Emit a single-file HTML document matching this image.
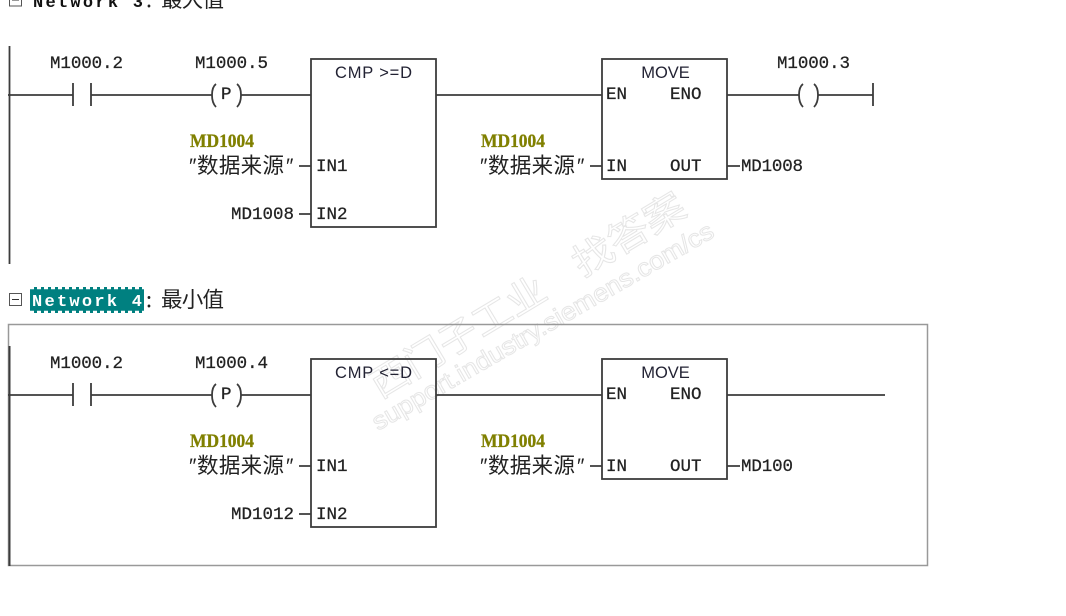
<!DOCTYPE html>
<html>
<head>
<meta charset="utf-8">
<style>
html,body{margin:0;padding:0;background:#fff;width:1066px;height:616px;overflow:hidden}
svg{display:block}
.l{stroke:#3c3c3c;stroke-width:1.8;fill:none}
.b{stroke:#3c3c3c;stroke-width:1.8;fill:none}
.m{font-family:"Liberation Mono",monospace;font-size:17.5px;fill:#222;stroke:#222;stroke-width:.25}
.s{font-family:"Liberation Sans",sans-serif;font-size:16.5px;fill:#223}
.y{font-family:"Liberation Serif",serif;font-size:19px;font-weight:bold;fill:#808000;stroke:#808000;stroke-width:.3}
.c{font-family:"Noto Sans CJK SC",sans-serif;font-size:21.5px;fill:#222}
.q{font-family:"Liberation Sans",sans-serif;font-size:21px;font-style:italic;fill:#222}
.h{font-family:"Liberation Mono",monospace;font-size:17px;font-weight:bold}
.w{font-family:"Liberation Sans","Noto Sans CJK SC",sans-serif;fill:none;stroke:#e6e6e6;stroke-width:1}
</style>
</head>
<body>
<svg width="1066" height="616" viewBox="0 0 1066 616" xmlns="http://www.w3.org/2000/svg">
<defs>
<g id="net">
  <path class="l" d="M73 95H8M73 83V106M91 83V106M91 95H212M241 95H311M436 95H602"/>
  <path class="l" d="M216 84Q212 87 212 95Q212 103 216 107M237 84Q241 87 241 95Q241 103 237 107"/>
  <text class="m" x="50" y="68" textLength="73">M1000.2</text>
  <text class="m" x="221" y="99">P</text>
  <rect class="b" x="311" y="59" width="125" height="168"/>
  <text class="y" x="190" y="147" textLength="64" lengthAdjust="spacingAndGlyphs">MD1004</text>
  <text class="q" x="188" y="173">″</text>
  <text class="c" x="197" y="173" textLength="87">数据来源</text>
  <text class="q" x="285" y="173">″</text>
  <path class="l" d="M299 166H311M299 214H311"/>
  <text class="m" x="316" y="171">IN1</text>
  <text class="m" x="316" y="219">IN2</text>
  <rect class="b" x="602" y="59" width="125" height="120"/>
  <text class="s" x="665.5" y="78" text-anchor="middle">MOVE</text>
  <text class="m" x="606" y="99">EN</text>
  <text class="m" x="670" y="99">ENO</text>
  <text class="m" x="606" y="171">IN</text>
  <text class="m" x="670" y="171">OUT</text>
  <text class="y" x="481" y="147" textLength="64" lengthAdjust="spacingAndGlyphs">MD1004</text>
  <text class="q" x="479" y="173">″</text>
  <text class="c" x="488" y="173" textLength="87">数据来源</text>
  <text class="q" x="576" y="173">″</text>
  <path class="l" d="M590 166H602M727 166H740"/>
</g>
</defs>

<!-- Watermark (behind the diagram) -->
<g transform="translate(380,399) rotate(-31)">
  <text class="w" x="0" y="0" font-size="37" textLength="198" lengthAdjust="spacingAndGlyphs">西门子工业</text>
  <text class="w" x="236" y="0" font-size="37" textLength="124" lengthAdjust="spacingAndGlyphs">找答案</text>
</g>
<g transform="translate(378,431) rotate(-30)">
  <text class="w" x="0" y="0" font-size="25" textLength="390" lengthAdjust="spacingAndGlyphs">support.industry.siemens.com/cs</text>
</g>

<!-- Network 3 header -->
<rect x="9.5" y="-6" width="12" height="12" fill="none" stroke="#555"/>
<path d="M12 0H19" stroke="#333"/>
<text class="h" x="33" y="7" fill="#111" textLength="110">Network 3</text>
<text class="c" x="146" y="7">:</text>
<text class="c" x="161" y="7" textLength="63">最大值</text>

<!-- Network 3 -->
<path d="M9.5 46V264" stroke="#3c3c3c" stroke-width="1.8"/>
<use href="#net"/>
<text class="m" x="195" y="68" textLength="73">M1000.5</text>
<text class="s" x="373.5" y="78" text-anchor="middle" textLength="77">CMP &gt;=D</text>
<text class="m" x="231" y="219" textLength="63">MD1008</text>
<text class="m" x="741" y="171" textLength="62">MD1008</text>
<text class="m" x="777" y="68" textLength="73">M1000.3</text>
<path class="l" d="M727 95H799M818 95H873M873 83V106"/>
<path class="l" d="M803 84Q799 87 799 95Q799 103 803 107M814 84Q818 87 818 95Q818 103 814 107"/>

<!-- Network 4 header -->
<rect x="9.5" y="293.5" width="12" height="12" fill="none" stroke="#555"/>
<path d="M12 299.5H19" stroke="#333"/>
<rect x="30" y="287" width="114" height="26" fill="#008080"/>
<path d="M30 288h114M30 312h114" stroke="#fff" stroke-width="2.4" stroke-dasharray="4 3"/>
<text class="h" x="32" y="306" fill="#fff" textLength="110">Network 4</text>
<text class="c" x="146" y="307">:</text>
<text class="c" x="161" y="307" textLength="63">最小值</text>

<!-- Network 4 frame -->
<rect x="8.5" y="324.5" width="919" height="241" fill="none" stroke="#999" stroke-width="1.5"/>
<path d="M9.5 346V566" stroke="#3c3c3c" stroke-width="2"/>
<g transform="translate(0,300)">
  <use href="#net"/>
  <text class="m" x="195" y="68" textLength="73">M1000.4</text>
  <text class="s" x="373.5" y="78" text-anchor="middle" textLength="77">CMP &lt;=D</text>
  <text class="m" x="231" y="219" textLength="63">MD1012</text>
  <text class="m" x="741" y="171" textLength="52">MD100</text>
  <path class="l" d="M727 95H885"/>
</g>
</svg>
</body>
</html>
